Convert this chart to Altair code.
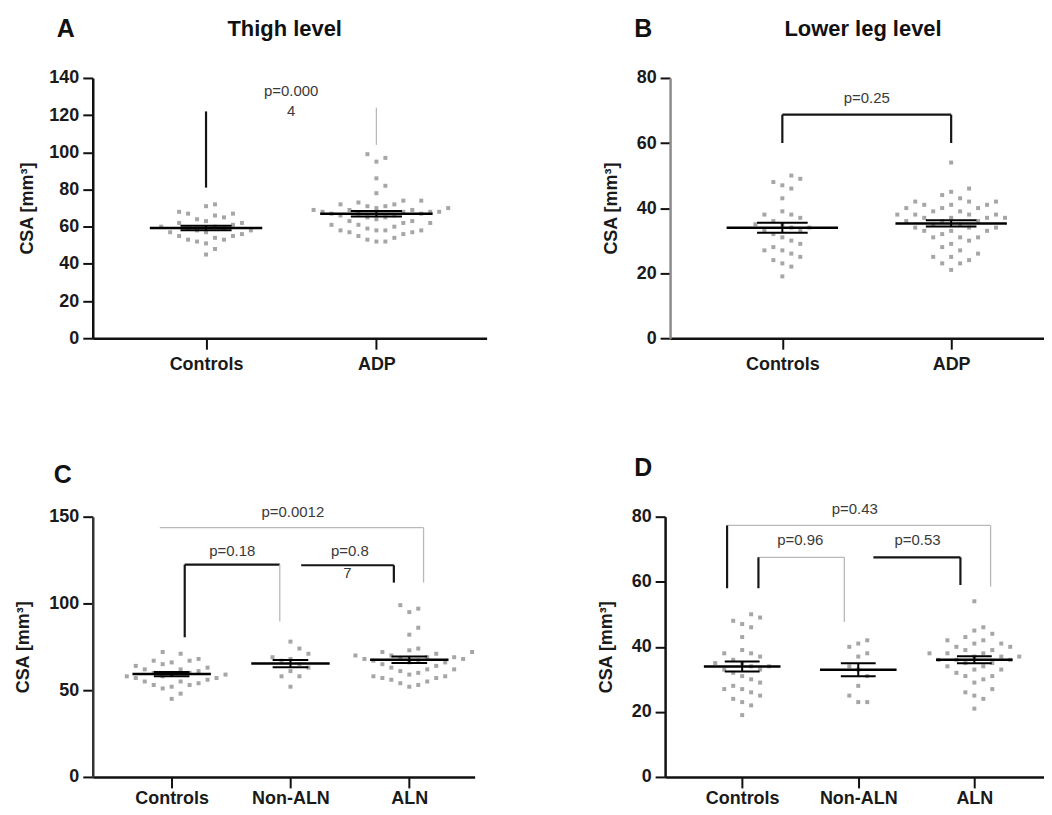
import altair as alt
import pandas as pd

CATS_AB = ["Controls", "ADP"]
CATS_CD = ["Controls", "Non-ALN", "ALN"]

THIGH_CONTROLS = [72, 71, 68, 67, 67, 66, 65, 64, 63, 62, 62, 61, 60, 60, 59, 59, 58, 58,
                  57, 57, 56, 55, 55, 54, 53, 53, 52, 51, 48, 45]
THIGH_NON_ALN = [78, 74, 71, 69, 68, 67, 65, 63, 61, 58, 58, 52]
THIGH_ALN = [99, 97, 95, 86, 82, 74, 73, 72, 72, 71, 70, 70, 69, 69, 68, 68, 68, 67, 67,
             66, 66, 65, 64, 63, 62, 62, 61, 60, 59, 58, 58, 57, 57, 56, 55, 54, 53, 52]
LEG_CONTROLS = [50, 49, 48, 47, 46, 43, 39, 38, 38, 37, 36, 35, 35, 34, 34, 33, 33, 32,
                31, 30, 29, 28, 27, 27, 26, 25, 24, 23, 22, 19]
LEG_NON_ALN = [42, 41, 40, 38, 37, 34, 33, 31, 28, 25, 23, 23]
LEG_ALN = [54, 46, 45, 44, 43, 42, 42, 41, 41, 40, 40, 39, 39, 38, 38, 38, 37, 37, 37,
           36, 36, 36, 35, 35, 34, 34, 33, 33, 32, 31, 31, 30, 29, 27, 26, 25, 24, 21]

# significance brackets: segments (x, y, x2, y2, shade) in data units
SEG_A = [(1, 81, 1, 122, "dark"), (2, 104, 2, 124, "light")]
SEG_B = [(1, 68.7, 2, 68.7, "dark"), (1, 60, 1, 68.7, "dark"), (2, 60, 2, 68.7, "dark")]
SEG_C = [(0.9, 143.7, 3.12, 143.7, "light"), (3.12, 112, 3.12, 143.7, "light"),
         (1.11, 122.4, 1.91, 122.4, "dark"), (1.11, 80.5, 1.11, 122.4, "dark"),
         (1.91, 89.6, 1.91, 122.4, "light"),
         (2.09, 122, 2.87, 122, "dark"), (2.87, 112, 2.87, 122, "dark")]
SEG_D = [(0.87, 77.3, 3.14, 77.3, "light"), (0.87, 58, 0.87, 77.3, "dark"),
         (3.14, 58.5, 3.14, 77.3, "light"),
         (1.14, 67.5, 1.88, 67.5, "light"), (1.14, 58, 1.14, 67.5, "dark"),
         (1.88, 47.6, 1.88, 67.5, "light"),
         (2.13, 67.5, 2.88, 67.5, "dark"), (2.88, 59, 2.88, 67.5, "dark")]

LAB_A = [("p=0.000", 1.5, 133), ("4", 1.5, 122.3)]
LAB_B = [("p=0.25", 1.5, 73.9)]
LAB_C = [("p=0.0012", 2.02, 152.9), ("p=0.18", 1.51, 130), ("p=0.8", 2.5, 130), ("7", 2.48, 117.8)]
LAB_D = [("p=0.43", 1.97, 82.4), ("p=0.96", 1.5, 72.7), ("p=0.53", 2.51, 72.7)]

FONT = "Liberation Sans"


def swarm(vals, px_per_val, dx=9.0, dy=11.0):
    order = sorted(range(len(vals)), key=lambda i: (vals[i], i))
    placed = []
    offs = [0.0] * len(vals)
    step = dx / 2
    cands = [0.0]
    for j in range(1, 80):
        cands += [j * step, -j * step]
    for i in order:
        y = vals[i] * px_per_val
        for c in cands:
            if all(abs(c - px) >= dx - 1e-6 or abs(y - py) >= dy for px, py in placed):
                offs[i] = c
                placed.append((c, y))
                break
    return offs


def panel(cats, groups, ymax, ystep, xdom, width, height, segs, labels,
          letter, letter_xy, title=None, title_dx=0, title_pad=12, ydomain_color="#111",
          xlabel_pad=3):
    px_x = width / (xdom[1] - xdom[0])
    px_y = height / ymax
    rows = []
    for gi, vals in enumerate(groups):
        offs = swarm(vals, px_y)
        for v, o in zip(vals, offs):
            rows.append({"g": gi + 1, "v": v, "xp": gi + 1 + o / px_x})
    pts = pd.DataFrame(rows)

    xscale = alt.Scale(domain=list(xdom), nice=False, zero=False)
    yscale = alt.Scale(domain=[0, ymax], nice=False)
    label_expr = "[" + ",".join("'%s'" % c for c in cats) + "][datum.value - 1]"
    xaxis = alt.Axis(values=list(range(1, len(cats) + 1)), labelExpr=label_expr, title=None,
                     grid=False, tickSize=11, labelPadding=xlabel_pad)
    yaxis = alt.Axis(values=list(range(0, ymax + 1, ystep)), title="CSA [mm³]", grid=False,
                     tickSize=10, labelPadding=4, titlePadding=title_pad,
                     domainColor=ydomain_color)

    def X(f):
        return alt.X(f, scale=xscale, axis=xaxis)

    def Y(f):
        return alt.Y(f, scale=yscale, axis=yaxis)

    base = alt.Chart(pts)
    points = base.mark_square(size=16, color="#a6a6a6", opacity=1).encode(
        x=X("xp:Q"), y=Y("v:Q"))
    stats = base.transform_aggregate(
        m="mean(v)", se="stderr(v)", groupby=["g"]
    ).transform_calculate(
        lo="datum.m - datum.se", hi="datum.m + datum.se",
        ml="datum.g - 0.33", mr="datum.g + 0.33",
        cl="datum.g - 0.15", cr="datum.g + 0.15",
    )
    mean_rule = stats.mark_rule(color="black", strokeWidth=2.5).encode(
        x=X("ml:Q"), x2="mr:Q", y=Y("m:Q"))
    cap_lo = stats.mark_rule(color="black", strokeWidth=2).encode(
        x=X("cl:Q"), x2="cr:Q", y=Y("lo:Q"))
    cap_hi = stats.mark_rule(color="black", strokeWidth=2).encode(
        x=X("cl:Q"), x2="cr:Q", y=Y("hi:Q"))
    err = stats.mark_rule(color="black", strokeWidth=2).encode(
        x=X("g:Q"), y=Y("lo:Q"), y2="hi:Q")

    seg_df = pd.DataFrame(segs, columns=["x", "y", "x2", "y2", "shade"])
    brackets = alt.Chart(seg_df).mark_rule().encode(
        x=X("x:Q"), x2="x2:Q", y=Y("y:Q"), y2="y2:Q",
        color=alt.Color("shade:N", scale=alt.Scale(domain=["dark", "light"],
                                                   range=["#161616", "#b9b9b9"]), legend=None),
        strokeWidth=alt.StrokeWidth("shade:N", scale=alt.Scale(domain=["dark", "light"],
                                                               range=[2.2, 1.3]), legend=None),
    )
    lab_df = pd.DataFrame(labels, columns=["t", "x", "y"])
    ptext = alt.Chart(lab_df).mark_text(font=FONT, fontSize=15, color="#3a3a3a",
                                        baseline="middle").encode(
        x=X("x:Q"), y=Y("y:Q"), text="t:N")

    head = [(letter, letter_xy[0], 25)]
    if title:
        head.append((title, width / 2 + title_dx, 22))
    head_df = pd.DataFrame(head, columns=["t", "px", "fs"])
    layers = [points, brackets, mean_rule, err, cap_lo, cap_hi, ptext]
    for i in range(len(head_df)):
        row = head_df.iloc[[i]]
        layers.append(
            alt.Chart(row).mark_text(font=FONT, fontSize=int(row["fs"].iloc[0]), fontWeight="bold",
                                     color="#111", baseline="middle").encode(
                x=alt.value(float(row["px"].iloc[0])), y=alt.value(letter_xy[1]), text="t:N"))

    return alt.layer(*layers).properties(width=width, height=height)


A = panel(CATS_AB, [THIGH_CONTROLS, THIGH_NON_ALN + THIGH_ALN], 140, 20, (0.335, 2.647), 395, 261,
          SEG_A, LAB_A, "A", (-27, -49), title="Thigh level", title_dx=-5, xlabel_pad=6)
B = panel(CATS_AB, [LEG_CONTROLS, LEG_NON_ALN + LEG_ALN], 80, 20, (0.335, 2.55), 375, 261,
          SEG_B, LAB_B, "B", (-27, -49), title="Lower leg level", title_dx=6, title_pad=16,
          ydomain_color="#8c8c8c", xlabel_pad=6)
C = panel(CATS_CD, [THIGH_CONTROLS, THIGH_NON_ALN, THIGH_ALN], 150, 50, (0.336, 3.55), 383, 261,
          SEG_C, LAB_C, "C", (-30, -42), title_pad=16, ydomain_color="#333", xlabel_pad=2)
D = panel(CATS_CD, [LEG_CONTROLS, LEG_NON_ALN, LEG_ALN], 80, 20, (0.336, 3.6), 380, 261,
          SEG_D, LAB_D, "D", (-22, -49), title_pad=16, xlabel_pad=2)

chart = alt.vconcat(
    alt.hconcat(A, B, spacing=115),
    alt.hconcat(C, D, spacing=122),
    spacing=83,
).properties(
    padding={"left": 6, "top": 8, "right": 0, "bottom": 0}
).configure_view(strokeWidth=0).configure_axis(
    labelFont=FONT, labelFontSize=18, labelFontWeight="bold", labelColor="#1a1a1a",
    titleFont=FONT, titleFontSize=18, titleFontWeight="bold", titleColor="#1a1a1a",
    domainColor="#111", domainWidth=2.5, tickColor="#111", tickWidth=2,
)

chart.save("out.html", embed_options={"renderer": "svg", "actions": False})
